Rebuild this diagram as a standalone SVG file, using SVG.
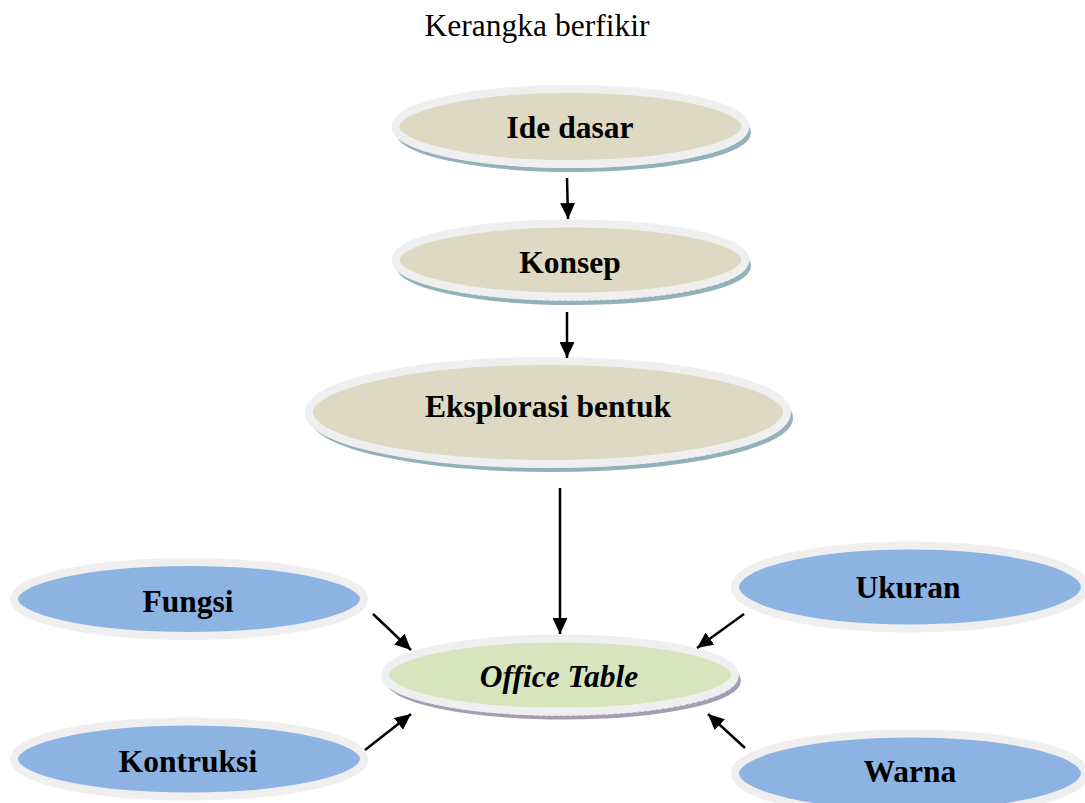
<svg xmlns="http://www.w3.org/2000/svg" width="1085" height="803" viewBox="0 0 1085 803">
  <style>
    .rim { stroke: #efefef; stroke-width: 8; }
    .tan { fill: #ddd9c3; }
    .green { fill: #d7e4bd; }
    .blue { fill: #8db3e2; }
    .sh1 { fill: #93b1bb; stroke: #93b1bb; stroke-width: 3; }
    .sh2 { fill: #a49db3; stroke: #a49db3; stroke-width: 3; }
    .shl { fill: none; stroke: #e4ecee; stroke-width: 1; stroke-dasharray: 4 2; }
    .lbl { font-family: "Liberation Serif", "Times New Roman", serif; font-weight: bold; font-size: 31.5px; fill: #000; text-anchor: middle; }
    .ttl { font-family: "Liberation Serif", "Times New Roman", serif; font-size: 31.5px; fill: #000; text-anchor: middle; }
    .con { stroke: #000; stroke-width: 2.5; fill: none; marker-end: url(#ah); }
  </style>
  <defs>
    <marker id="ah" markerUnits="userSpaceOnUse" markerWidth="17" markerHeight="15" refX="16" refY="7.5" orient="auto">
      <path d="M0,0 L16,7.5 L0,15 z" fill="#000"/>
    </marker>
  </defs>
  <rect width="1085" height="803" fill="#fff"/>
  <text class="ttl" x="537" y="36">Kerangka berfikir</text>

  <g id="node-ide-dasar">
    <ellipse class="sh1" cx="573.5" cy="132.5" rx="176" ry="38"/>
    <ellipse class="shl" cx="572" cy="130" rx="175" ry="37.5"/>
    <ellipse class="tan rim" cx="570.5" cy="126.5" rx="175" ry="37.5"/>
    <text class="lbl" x="570" y="138">Ide dasar</text>
  </g>

  <g id="node-konsep">
    <ellipse class="sh1" cx="573.5" cy="266" rx="176" ry="37.5"/>
    <ellipse class="shl" cx="572" cy="263.5" rx="175" ry="37"/>
    <ellipse class="tan rim" cx="570.5" cy="260" rx="175" ry="36.5"/>
    <text class="lbl" x="570" y="273">Konsep</text>
  </g>

  <g id="node-eksplorasi">
    <ellipse class="sh1" cx="551.5" cy="418" rx="240" ry="52.5"/>
    <ellipse class="shl" cx="550" cy="415.5" rx="239" ry="52"/>
    <ellipse class="tan rim" cx="548" cy="412.5" rx="239" ry="51.5"/>
    <text class="lbl" x="548" y="417">Eksplorasi bentuk</text>
  </g>

  <g id="node-office-table">
    <ellipse class="sh2" cx="563.5" cy="680.5" rx="176" ry="37.5"/>
    <ellipse class="shl" cx="562" cy="678.5" rx="175" ry="37"/>
    <ellipse class="green rim" cx="560" cy="675" rx="175" ry="36.5"/>
    <text class="lbl" x="559" y="687" font-style="italic">Office Table</text>
  </g>

  <g id="node-fungsi">
    <ellipse class="blue rim" cx="189" cy="599" rx="175" ry="37"/>
    <text class="lbl" x="188" y="612">Fungsi</text>
  </g>

  <g id="node-ukuran">
    <ellipse class="blue rim" cx="910" cy="587" rx="175" ry="41.5"/>
    <text class="lbl" x="908" y="598">Ukuran</text>
  </g>

  <g id="node-kontruksi">
    <ellipse class="blue rim" cx="189" cy="759" rx="175" ry="37.5"/>
    <text class="lbl" x="188" y="772">Kontruksi</text>
  </g>

  <g id="node-warna">
    <ellipse class="blue rim" cx="910" cy="773.5" rx="175" ry="40"/>
    <text class="lbl" x="910" y="782">Warna</text>
  </g>

  <g id="connectors">
    <line class="con" x1="567" y1="178" x2="568" y2="219"/>
    <line class="con" x1="567" y1="312" x2="567" y2="358"/>
    <line class="con" x1="560" y1="488" x2="560" y2="634"/>
    <line class="con" x1="373" y1="614" x2="411" y2="650"/>
    <line class="con" x1="744" y1="614" x2="697" y2="648"/>
    <line class="con" x1="365" y1="750" x2="411" y2="714"/>
    <line class="con" x1="745" y1="748" x2="708" y2="714"/>
  </g>
</svg>
